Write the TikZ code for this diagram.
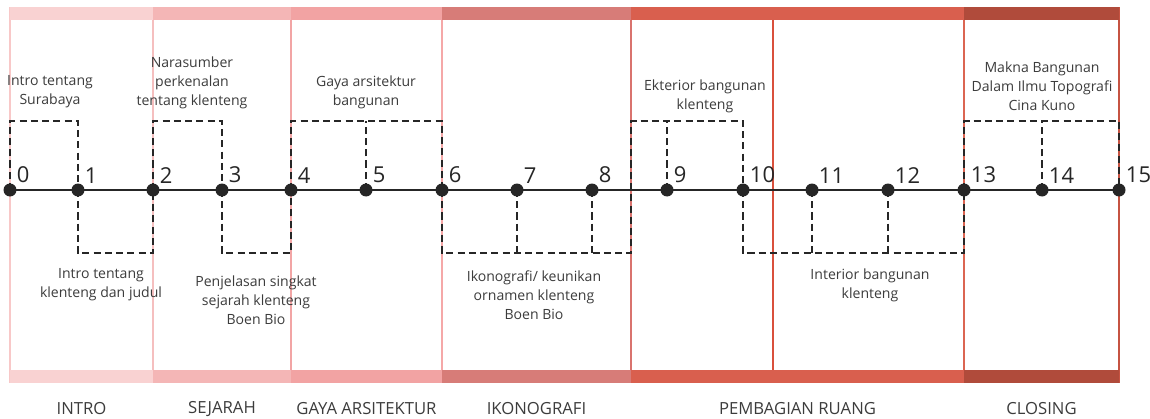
\documentclass[tikz,border=0pt]{standalone}
\usepackage{fontspec}
\setmainfont{Open Sans}
\usepackage{xcolor}
\usepackage{tikz}
\usetikzlibrary{positioning,calc}

\definecolor{introcol}{HTML}{F9D2D2}
\definecolor{sejarahcol}{HTML}{F4B6B6}
\definecolor{gayacol}{HTML}{F2A3A3}
\definecolor{ikoncol}{HTML}{D77C78}
\definecolor{ruangcol}{HTML}{D95F4E}
\definecolor{closecol}{HTML}{B04B3B}
\definecolor{inkgrey}{HTML}{3C3C3C}

\begin{document}
\begin{tikzpicture}[
  x=0.02cm, y=-0.02cm,
  dot/.style={circle,fill=black!85,inner sep=0pt,minimum size=0.26cm},
  numlbl/.style={font=\fontsize{12.5}{12.5}\selectfont,text=black!85,inner sep=1pt},
  dashbox/.style={draw=black!85,line width=0.85pt,dash pattern=on 4pt off 2.4pt},
  topic/.style={font=\fontsize{8}{10.8}\selectfont,text=inkgrey,align=center,inner sep=0pt},
  partlbl/.style={font=\fontsize{9.5}{10}\selectfont,text=inkgrey,inner sep=0pt},
  divider/.style={line width=0.8pt}
]
\useasboundingbox (0,0) rectangle (1150,419);

% section dividers
\foreach \x/\col in {10/F8C8C8,153/F5BFBF,291/F2A5A5,442/F5A8A8,631/D9736E,773/D9503C,964/DB6552,1119/C65342}{
  \definecolor{linecol}{HTML}{\col}
  \draw[divider,linecol] (\x,7) -- (\x,383);
}

% coloured bars and section names
\foreach \xa/\xb/\col/\name in {10/153/introcol/INTRO,153/291/sejarahcol/SEJARAH,
  291/442/gayacol/GAYA ARSITEKTUR,442/631/ikoncol/IKONOGRAFI,
  631/964/ruangcol/PEMBAGIAN RUANG,964/1119/closecol/CLOSING}{
  \fill[\col] (\xa,7) rectangle (\xb,20);
  \fill[\col] (\xa,370) rectangle (\xb,383);
  \node[partlbl] (part-\name) at ({(\xa+\xb)/2},409) {\name};
}

% timeline points
\foreach \i/\x in {0/10,1/78,2/153,3/222,4/291,5/366,6/442,7/517,8/592,
  9/667,10/743,11/812,12/888,13/964,14/1042,15/1119}{
  \node[dot,label={[numlbl]north east:\i}] (p\i) at (\x,190) {};
}
\coordinate (mid) at (631,190);
\draw[line width=1.4pt,black!85] (p0.center) -- (p15.center);

% dashed boxes above
\draw[dashbox] (p0.center) -- ++(0,-69) -| (p1.center);
\draw[dashbox] (p2.center) -- ++(0,-69) -| (p3.center);
\draw[dashbox] (p4.center) -- ++(0,-69) -| (p6.center);
\draw[dashbox] (p5.center) -- ++(0,-69);
\draw[dashbox] (mid) -- ++(0,-69) -| (p10.center);
\draw[dashbox] (p9.center) -- ++(0,-69);
\draw[dashbox] (p13.center) -- ++(0,-69) -| (p15.center);
\draw[dashbox] (p14.center) -- ++(0,-69);

% dashed boxes below
\draw[dashbox] (p1.center) -- ++(0,63) -| (p2.center);
\draw[dashbox] (p3.center) -- ++(0,63) -| (p4.center);
\draw[dashbox] (p6.center) -- ++(0,63) -| (mid);
\draw[dashbox] (p7.center) -- ++(0,63);
\draw[dashbox] (p8.center) -- ++(0,63);
\draw[dashbox] (p10.center) -- ++(0,63) -| (p13.center);
\draw[dashbox] (p11.center) -- ++(0,63);
\draw[dashbox] (p12.center) -- ++(0,63);

% topics
\node[topic] (surabaya) at (50,92) {Intro tentang\\Surabaya};
\node[topic] (narasumber) at (192,83) {Narasumber\\perkenalan\\tentang klenteng};
\node[topic] (gaya) at (366,92) {Gaya arsitektur\\bangunan};
\node[topic] (ekterior) at (705,96) {Ekterior bangunan\\klenteng};
\node[topic] (makna) at (1042,86) {Makna Bangunan\\Dalam Ilmu Topografi\\Cina Kuno};
\node[topic] (judul) at (101,285) {Intro tentang\\klenteng dan judul};
\node[topic] (sejarah) at (256,300) {Penjelasan singkat\\sejarah klenteng\\Boen Bio};
\node[topic] (ikonografi) at (534,295) {Ikonografi/ keunikan\\ornamen klenteng\\Boen Bio};
\node[topic] (interior) at (870,285) {Interior bangunan\\klenteng};
\end{tikzpicture}
\end{document}
